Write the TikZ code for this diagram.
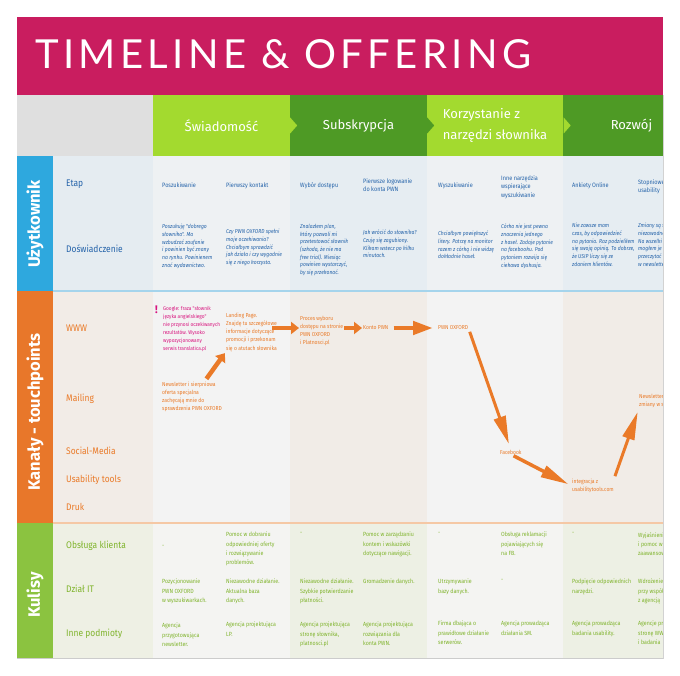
\documentclass[tikz,border=0pt]{standalone}
\usepackage{fontspec}
\setmainfont{Fira Sans}
\newfontfamily\titlefont[LetterSpace=11]{Lato}
\newfontfamily\condfont[FakeStretch=0.88]{Fira Sans}
\usetikzlibrary{arrows.meta}

\definecolor{offmagenta}{RGB}{201,29,95}
\definecolor{limegreen}{RGB}{163,218,47}
\definecolor{leafgreen}{RGB}{78,154,37}
\definecolor{headgray}{RGB}{223,223,223}
\definecolor{userblue}{RGB}{46,168,222}
\definecolor{chanorange}{RGB}{232,119,42}
\definecolor{backgreen}{RGB}{139,195,64}
\definecolor{textblue}{RGB}{38,100,170}
\definecolor{textorange}{RGB}{234,122,40}
\definecolor{textpink}{RGB}{216,20,126}
\definecolor{textgreen}{RGB}{128,180,45}
\definecolor{ulab}{RGB}{229,236,241}
\definecolor{uodd}{RGB}{238,241,243}
\definecolor{ueven}{RGB}{230,237,242}
\definecolor{klab}{RGB}{242,236,231}
\definecolor{kodd}{RGB}{243,243,243}
\definecolor{keven}{RGB}{241,236,231}
\definecolor{glab}{RGB}{238,240,228}
\definecolor{godd}{RGB}{244,244,242}
\definecolor{geven}{RGB}{237,240,228}
\definecolor{sepblue}{RGB}{165,212,236}
\definecolor{seporange}{RGB}{245,200,165}

\tikzset{
  headbox/.style = {minimum width=137pt, minimum height=61pt, text=white, align=left,
                    font=\fontsize{13}{21}\selectfont},
  band/.style = {rotate=90, text=white, font=\bfseries\fontsize{16.5}{18}\selectfont},
  rowlabel/.style = {anchor=west, font=\condfont\fontsize{9.6}{11}\selectfont},
  stage/.style = {anchor=north west, align=left, text=textblue, font=\condfont\fontsize{6.3}{8.6}\selectfont},
  feel/.style = {anchor=north west, align=left, text=textblue, font=\condfont\itshape\fontsize{5.7}{7.7}\selectfont},
  touch/.style = {anchor=north west, align=left, text=textorange, font=\condfont\fontsize{5.7}{8.1}\selectfont},
  backstage/.style = {anchor=north west, align=left, text=textgreen, font=\condfont\fontsize{6}{9.2}\selectfont},
  fatarrow/.style = {draw=textorange, line width=4.5pt, -{Triangle[length=8pt,width=12pt]}},
  fatlong/.style = {draw=textorange, line width=4.5pt, -{Triangle[length=20pt,width=13pt]}},
  longarrow/.style = {draw=textorange, line width=3pt, -{Triangle[length=28pt,width=12pt]}}
}

\begin{document}
\begin{tikzpicture}[x=1pt, y=-1pt, every node/.style={inner sep=0pt}]
\useasboundingbox[fill=white] (0,0) rectangle (680,676);
\fill[offmagenta] (17,17) rectangle (663,95);
\node[anchor=base west, text=white, font=\titlefont\fontsize{40}{40}\selectfont] (title) at (35,69) {TIMELINE \& OFFERING};

\begin{scope}
\clip (17,95) rectangle (663,660);

% header
\node[headbox, fill=headgray, minimum width=136pt] (corner) at (85,125.5) {};
\node[headbox, fill=limegreen] (swiad) at (221.5,125.5) {Świadomość};
\node[headbox, fill=leafgreen] (subs) at (358.5,125.5) {Subskrypcja};
\node[headbox, fill=limegreen] (korz) at (495,125.5) {Korzystanie z\\narzędzi słownika};
\node[headbox, fill=leafgreen] (rozw) at (631.5,125.5) {Rozwój};
\foreach \b/\c in {swiad/limegreen, subs/leafgreen, korz/limegreen}
  \fill[\c] ([yshift=8pt]\b.east) -- ([xshift=7pt]\b.east) -- ([yshift=-8pt]\b.east) -- cycle;

% backgrounds
\fill[userblue] (17,156) rectangle (53,291);
\fill[chanorange] (17,291) rectangle (53,523);
\fill[backgreen] (17,523) rectangle (53,658);
\fill[ulab] (53,156) rectangle (153,291);
\fill[klab] (53,291) rectangle (153,523);
\fill[glab] (53,523) rectangle (153,658);
\foreach \x/\a/\b/\c in {153/uodd/kodd/godd, 290/ueven/keven/geven, 427/uodd/kodd/godd, 563/ueven/keven/geven} {
  \fill[\a] (\x,156) rectangle +(137,135);
  \fill[\b] (\x,291) rectangle +(137,232);
  \fill[\c] (\x,523) rectangle +(137,135);
}
\draw[sepblue, line width=1.5pt] (53,291) -- (663,291);
\draw[seporange, line width=2pt] (53,523) -- (663,523);
\draw[gray!40, line width=0.8pt] (17,658.4) -- (663,658.4);

\node[band] (userlab) at (35,224) {Użytkownik};
\node[band] (chanlab) at (35,412) {Kanały - touchpoints};
\node[band] (backlab) at (35,595) {Kulisy};

% row labels
\node[rowlabel, text=textblue] (etap) at (66,184) {Etap};
\node[rowlabel, text=textblue] (dosw) at (66,249) {Doświadczenie};
\node[rowlabel, text=textorange] (www) at (66,328) {WWW};
\node[rowlabel, text=textorange] (mail) at (66,399) {Mailing};
\node[rowlabel, text=textorange] (social) at (66,451) {Social-Media};
\node[rowlabel, text=textorange] (usab) at (66,480) {Usability tools};
\node[rowlabel, text=textorange] (druk) at (66,507) {Druk};
\node[rowlabel, text=textgreen] (obsl) at (66,546) {Obsługa klienta};
\node[rowlabel, text=textgreen] (dzial) at (66,589) {Dział IT};
\node[rowlabel, text=textgreen] (inne) at (66,634) {Inne podmioty};

% etap
\node[stage] (e1) at (162,182) {Poszukiwanie};
\node[stage] (e2) at (226,182) {Pierwszy kontakt};
\node[stage] (e3) at (300,182) {Wybór dostępu};
\node[stage] (e4) at (363,178) {Pierwsze logowanie\\do konta PWN};
\node[stage] (e5) at (438,182) {Wyszukiwanie};
\node[stage] (e6) at (501,175) {Inne narzędzia\\wspierające\\wyszukiwanie};
\node[stage] (e7) at (572,182) {Ankiety Online};
\node[stage] (e8) at (638,179) {Stopniowe testy\\usability};

% doswiadczenie
\node[feel] (d1) at (162,224) {Poszukuję "dobrego\\słownika". Ma\\wzbudzać zaufanie\\i powinien być znany\\na rynku. Powinienem\\znać wydawnictwo.};
\node[feel] (d2) at (226,229) {Czy PWN OXFORD spełni\\moje oczekiwania?\\Chciałbym sprawdzić\\jak działa i czy wygodnie\\się z niego korzysta.};
\node[feel] (d3) at (300,224) {Znalazłem plan,\\który pozwoli mi\\przetestować słownik\\(szkoda, że nie ma\\free trial). Miesiąc\\powinien wystarczyć,\\by się przekonać.};
\node[feel] (d4) at (363,230) {Jak wrócić do słownika?\\Czuję się zagubiony.\\Klikam wstecz po kilku\\minutach.};
\node[feel] (d5) at (438,231) {Chciałbym powiększyć\\litery. Patrzę na monitor\\razem z córką i nie widzę\\dokładnie haseł.};
\node[feel] (d6) at (501,224) {Córka nie jest pewna\\znaczenia jednego\\z haseł. Zadaje pytanie\\na facebooku. Pod\\pytaniem rozwija się\\ciekawa dyskusja.};
\node[feel] (d7) at (572,223) {Nie zawsze mam\\czas, by odpowiedzieć\\na pytania. Raz podzieliłem\\się swoją opinią. To dobrze,\\że USIP liczy się ze\\zdaniem klientów.};
\node[feel] (d8) at (638,223) {Zmiany są stopniowe\\niezawodne.\\Na wszelki wypadek\\mogłem je wcześniej\\przeczytać\\w newsletterze.};

% touchpoints
\node[anchor=north west, text=textpink, font=\bfseries\fontsize{11}{11}\selectfont] (bang) at (155,306) {!};
\node[touch, text=textpink, font=\condfont\fontsize{5.4}{8.1}\selectfont] (google) at (163,306) {Google: fraza "słownik\\języka angielskiego"\\nie przynosi oczekiwanych\\rezultatów. Wysoko\\wypozycjonowany\\serwis translatica.pl};
\node[touch] (lp) at (226,313) {Landing Page.\\Znajdę tu szczegółowe\\informacje dotyczące\\promocji i przekonam\\się o atutach słownika};
\node[touch] (news) at (162,382) {Newsletter i sierpniowa\\oferta specjalna\\zachęcają mnie do\\sprawdzenia PWN OXFORD};
\node[touch] (proc) at (300,316) {Proces wyboru\\dostępu na stronie\\PWN OXFORD\\i Platnosci.pl};
\node[touch, anchor=west] (konto) at (363,328) {Konto PWN};
\node[touch, anchor=west] (oxf) at (438,328) {PWN OXFORD};
\node[touch, anchor=west] (fb) at (500,452) {Facebook};
\node[touch] (integ) at (572,479) {integracja z\\usabilitytools.com};
\node[touch] (newsr) at (639,394) {Newsletter informujący\\zmiany w serwisie};

\draw[fatarrow, shorten <=-1pt, shorten >=2pt] ([xshift=45pt,yshift=4pt]news.north west) -- (lp.south west);
\draw[fatarrow, shorten <=-5pt, shorten >=1pt] (lp.east |- konto.west) -- (proc.west |- konto.west);
\draw[fatarrow, shorten <=1pt, shorten >=1pt] (proc.east |- konto.west) -- (konto.west);
\draw[fatlong, shorten <=5pt, shorten >=5pt] (konto.east) -- (oxf.west);
\draw[longarrow, shorten <=4pt, shorten >=6pt] (oxf.east) -- (fb.north);
\draw[longarrow, line width=3.5pt, shorten <=3pt, shorten >=4pt] (fb.south) -- (integ.west);
\draw[longarrow, shorten <=3pt, shorten >=4pt] (integ.north east) -- (newsr.south west);

% kulisy
\node[backstage] (k11) at (162,545) {-};
\node[backstage] (k12) at (226,532) {Pomoc w dobraniu\\odpowiedniej oferty\\i rozwiązywanie\\problemów.};
\node[backstage] (k13) at (300,532) {-};
\node[backstage] (k14) at (363,532) {Pomoc w zarządzaniu\\kontem i wskazówki\\dotyczące nawigacji.};
\node[backstage] (k15) at (438,532) {-};
\node[backstage] (k16) at (501,532) {Obsługa reklamacji\\pojawiających się\\na FB.};
\node[backstage] (k17) at (572,532) {-};
\node[backstage] (k18) at (638,532) {Wyjaśnienia\\i pomoc w\\zaawansowanych};
\node[backstage] (k21) at (162,579) {Pozycjonowanie\\PWN OXFORD\\w wyszukiwarkach.};
\node[backstage] (k22) at (226,579) {Niezawodne działanie.\\Aktualna baza\\danych.};
\node[backstage] (k23) at (300,579) {Niezawodne działanie.\\Szybkie potwierdzanie\\płatności.};
\node[backstage] (k24) at (363,579) {Gromadzenie danych.};
\node[backstage] (k25) at (438,579) {Utrzymywanie\\bazy danych.};
\node[backstage] (k26) at (501,579) {-};
\node[backstage] (k27) at (572,579) {Podpięcie odpowiednich\\narzędzi.};
\node[backstage] (k28) at (638,579) {Wdrożenie\\przy współpracy\\z agencją};
\node[backstage] (k31) at (162,623) {Agencja\\przygotowująca\\newsletter.};
\node[backstage] (k32) at (226,622) {Agencja projektująca\\LP.};
\node[backstage] (k33) at (300,622) {Agencja projektująca\\stronę słownika,\\platnosci.pl};
\node[backstage] (k34) at (363,622) {Agencja projektująca\\rozwiązania dla\\konta PWN.};
\node[backstage] (k35) at (438,621) {Firma dbająca o\\prawidłowe działanie\\serwerów.};
\node[backstage] (k36) at (501,621) {Agencja prowadząca\\działania SM.};
\node[backstage] (k37) at (572,621) {Agencja prowadząca\\badania usability.};
\node[backstage] (k38) at (638,621) {Agencje projektujące\\stronę WWW\\i badania};
\end{scope}
\draw[gray!35, line width=1pt] (663.5,95) -- (663.5,659);
\end{tikzpicture}
\end{document}
